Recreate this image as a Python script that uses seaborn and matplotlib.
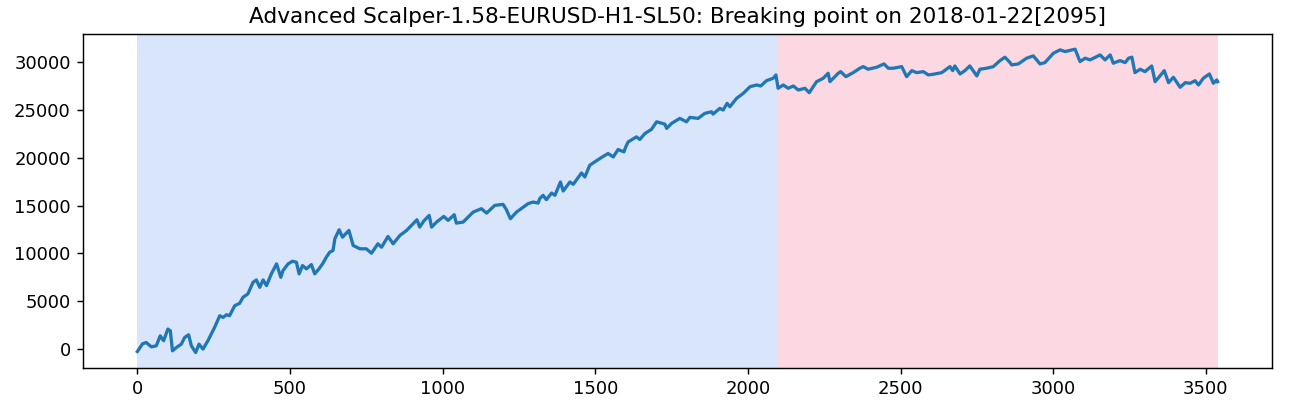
import matplotlib
matplotlib.use("Agg")
import matplotlib.pyplot as plt
import seaborn as sns
import pandas as pd

strategy = "Advanced Scalper-1.58-EURUSD-H1-SL50"
break_date = "2018-01-22"
break_idx = 2095
last_idx = 3539

# equity curve (trade number, balance)
trade_idx = [
    0, 17, 29, 46, 62, 75, 86, 100, 108, 115, 128, 144, 155, 168, 177, 191,
    202, 215, 231, 253, 270, 281, 292, 302, 319, 335, 346, 362, 379, 390,
    401, 412, 423, 439, 456, 470, 477, 494, 508, 521, 530, 541, 554, 570,
    581, 595, 608, 619, 630, 641, 647, 661, 672, 693, 707, 729, 750, 767,
    788, 800, 821, 838, 860, 882, 903, 916, 925, 938, 956, 964, 980, 1004,
    1018, 1038, 1045, 1067, 1100, 1127, 1144, 1171, 1198, 1209, 1222, 1242,
    1253, 1280, 1296, 1313, 1318, 1329, 1340, 1357, 1368, 1386, 1395, 1417,
    1428, 1455, 1466, 1482, 1515, 1542, 1559, 1575, 1594, 1600, 1608, 1635,
    1646, 1663, 1684, 1701, 1728, 1734, 1750, 1777, 1799, 1810, 1837, 1859,
    1881, 1886, 1908, 1919, 1932, 1941, 1963, 1985, 2007, 2029, 2042, 2061,
    2083, 2092, 2099, 2116, 2132, 2149, 2165, 2187, 2201, 2225, 2247, 2263,
    2269, 2296, 2304, 2321, 2345, 2367, 2378, 2394, 2422, 2446, 2460, 2476,
    2504, 2520, 2537, 2553, 2575, 2591, 2613, 2635, 2662, 2671, 2678, 2695,
    2711, 2727, 2750, 2760, 2782, 2804, 2826, 2842, 2859, 2864, 2886, 2913,
    2935, 2957, 2973, 3001, 3023, 3039, 3072, 3088, 3105, 3121, 3154, 3170,
    3187, 3197, 3219, 3236, 3247, 3258, 3268, 3285, 3301, 3323, 3334, 3350,
    3364, 3378, 3394, 3416, 3433, 3449, 3465, 3476, 3492, 3512, 3525, 3536,
    3539,
]
equity = [
    -250, 556, 692, 241, 346, 1395, 871, 2098, 1920, -178, 168, 525, 1217,
    1500, 346, -357, 525, 0, 871, 2266, 3493, 3315, 3598, 3493, 4542, 4783,
    5413, 5770, 6986, 7238, 6462, 7238, 6640, 7868, 8917, 7511, 8214, 8917,
    9189, 9084, 7868, 8738, 8392, 8843, 7868, 8392, 8979, 9609, 10133, 10312,
    11539, 12483, 11707, 12410, 10836, 10490, 10490, 10028, 11015, 10658,
    11780, 11015, 11886, 12410, 13113, 13532, 12756, 13385, 13983, 12756,
    13280, 13878, 13459, 14057, 13176, 13280, 14329, 14686, 14225, 15033,
    15137, 14581, 13637, 14329, 14581, 15211, 15379, 15274, 15735, 16082,
    15630, 16322, 16082, 17477, 16532, 17477, 17235, 18420, 18001, 19228,
    19931, 20456, 20099, 20875, 20624, 21148, 21673, 22197, 21924, 22554,
    22973, 23771, 23529, 23078, 23603, 24127, 23771, 24232, 24127, 24652,
    24820, 24578, 25176, 24998, 25701, 25344, 26225, 26750, 27442, 27621,
    27515, 28071, 28323, 28669, 27274, 27621, 27274, 27515, 27096, 27274,
    26813, 27967, 28323, 28848, 27967, 28848, 29016, 28491, 28911, 29372,
    29540, 29267, 29477, 29823, 29372, 29372, 29540, 28491, 29120, 28911,
    29016, 28669, 28774, 28911, 29540, 29120, 29613, 28774, 29120, 29613,
    28565, 29267, 29372, 29540, 30169, 30526, 29960, 29719, 29823, 30421,
    30663, 29823, 29960, 30946, 31293, 31114, 31366, 30064, 30421, 30243,
    30767, 30243, 30767, 29897, 30169, 29960, 30421, 30526, 28911, 29267,
    29016, 29613, 27967, 28565, 29120, 27862, 28428, 27379, 27862, 27800,
    28071, 27621, 28323, 28774, 27800, 28145, 27967,
]

df = pd.DataFrame({"trade": trade_idx, "equity": equity})

fig, ax = plt.subplots(figsize=(1290 / 130, 412 / 130), dpi=130)
fig.subplots_adjust(left=0.0646, right=0.9858, top=0.9175, bottom=0.1075)

# in-sample / out-of-sample shading
ax.axvspan(0, break_idx, color="#d9e5fb", lw=0)
ax.axvspan(break_idx, last_idx, color="#fcd8e2", lw=0)

sns.lineplot(data=df, x="trade", y="equity", ax=ax, color="#1f77b4", lw=1.8)

ax.set_xlabel("")
ax.set_ylabel("")
ax.set_title(f"{strategy}: Breaking point on {break_date}[{break_idx}]")

plt.savefig("out.png")
